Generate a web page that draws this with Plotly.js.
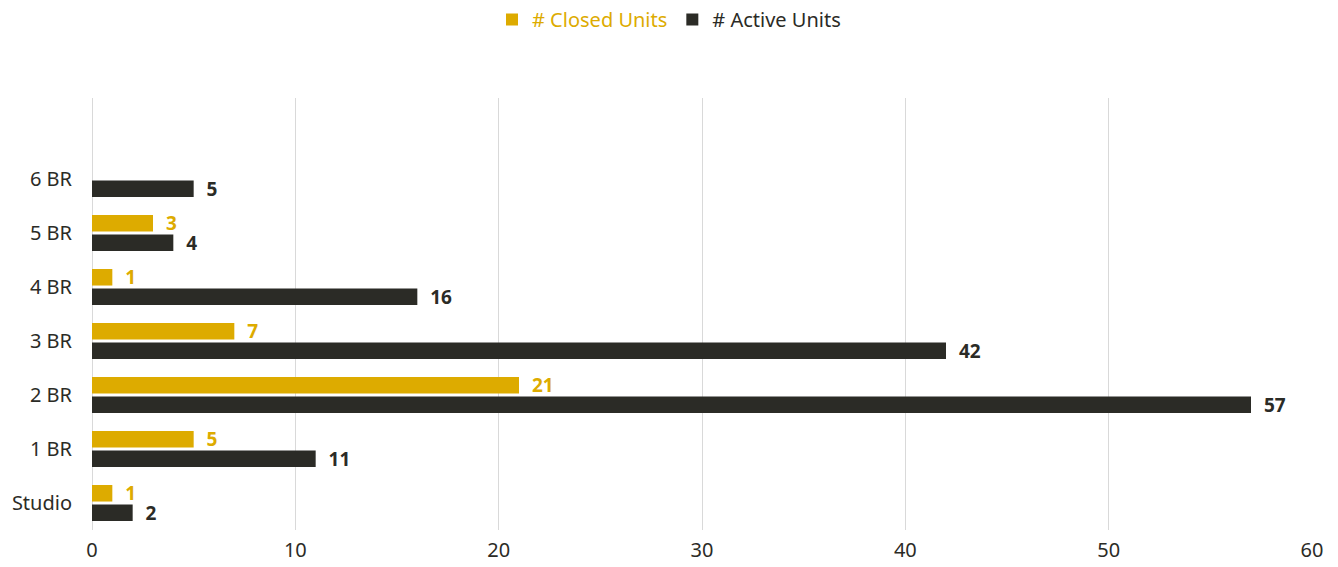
<!DOCTYPE html>
<html>
<head>
<meta charset="utf-8">
<script src="https://cdn.plot.ly/plotly-3.0.1.min.js"></script>
<style>html,body{margin:0;padding:0;background:#fff}#chart{width:1338px;height:567px}</style>
</head>
<body>
<div id="chart"></div>
<script>
const categories = ["Studio", "1 BR", "2 BR", "3 BR", "4 BR", "5 BR", "6 BR"];
const closedUnits = [1, 5, 21, 7, 1, 3, null];
const activeUnits = [2, 11, 57, 42, 16, 4, 5];
const xTicks = [0, 10, 20, 30, 40, 50, 60];

const gold = "#DDAB00";
const dark = "#2B2B26";
const fam = "'Noto Sans', sans-serif";

const traces = [
  {
    type: "bar", orientation: "h",
    name: "# Active Units",
    y: categories, x: activeUnits,
    marker: {color: dark},
    text: activeUnits.map(v => v == null ? "" : "&nbsp;&nbsp;<b>" + v + "</b>"),
    texttemplate: "%{text}",
    textposition: "outside",
    constraintext: "none",
    textfont: {color: dark, size: 19, family: fam},
    cliponaxis: false,
    legendrank: 2,
    hoverinfo: "x+y"
  },
  {
    type: "bar", orientation: "h",
    name: "<span style='color:" + gold + "'># Closed Units</span>",
    y: categories, x: closedUnits,
    marker: {color: gold},
    text: closedUnits.map(v => v == null ? "" : "&nbsp;&nbsp;<b>" + v + "</b>"),
    texttemplate: "%{text}",
    textposition: "outside",
    constraintext: "none",
    textfont: {color: gold, size: 19, family: fam},
    cliponaxis: false,
    legendrank: 1,
    hoverinfo: "x+y"
  }
];

const layout = {
  width: 1338, height: 567,
  margin: {l: 92, r: 26, t: 98, b: 37},
  paper_bgcolor: "#fff", plot_bgcolor: "#fff",
  font: {family: fam, size: 20, color: "#2B2B26"},
  barmode: "group",
  bargap: 0.28,
  bargroupgap: 0.15,
  showlegend: true,
  legend: {
    orientation: "h", x: 0.5, xanchor: "center", xref: "container",
    y: 1, yanchor: "top", yref: "container",
    font: {size: 20, color: "#2B2B26"},
    itemwidth: 30
  },
  xaxis: {
    range: [0, 60], tickvals: xTicks, ticktext: xTicks.map(String),
    showgrid: true, gridcolor: "#D9D9D9", gridwidth: 1,
    zeroline: true, zerolinecolor: "#D9D9D9", zerolinewidth: 1,
    showline: false, ticks: "",
    tickfont: {size: 20, color: "#2B2B26"},
    ticklabelstandoff: 6, fixedrange: true
  },
  yaxis: {
    type: "category",
    categoryorder: "array", categoryarray: categories,
    range: [-0.5, 7.5],
    showgrid: false, zeroline: false, showline: false, ticks: "",
    tickfont: {size: 20, color: "#2B2B26"},
    ticklabelstandoff: 19, fixedrange: true
  }
};

Plotly.newPlot("chart", traces, layout, {displayModeBar: false, staticPlot: true});
</script>
</body>
</html>
